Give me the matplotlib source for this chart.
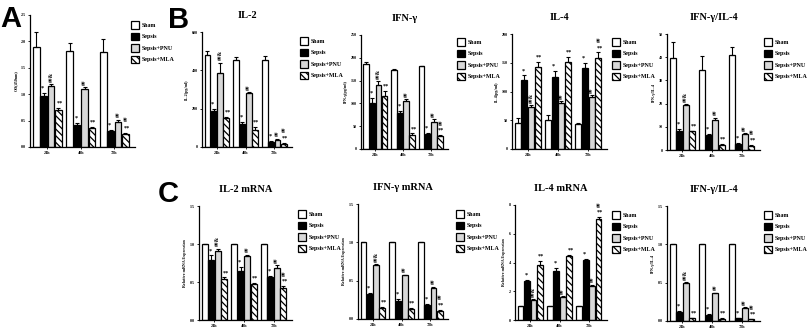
import matplotlib
matplotlib.use("Agg")
import matplotlib.pyplot as plt
from matplotlib.patches import Patch

W, H = 808, 333

groups = ["24h", "48h", "72h"]
series = ["Sham", "Sepsis", "Sepsis+PNU", "Sepsis+MLA"]

# Panel A: OD(450nm)
a_sham = [1.90, 1.82, 1.80]
a_sepsis = [0.97, 0.42, 0.30]
a_pnu = [1.15, 1.10, 0.48]
a_mla = [0.70, 0.36, 0.24]
a_err = [[0.27, 0.15, 0.25], [0.05, 0.03, 0.02], [0.04, 0.03, 0.03], [0.03, 0.02, 0.02]]

# Panel B: serum cytokines
il2_sham = [481, 456, 456]
il2_sepsis = [189, 119, 26]
il2_pnu = [385, 280, 38]
il2_mla = [149, 91, 16]
il2_err = [[18, 15, 18], [8, 10, 5], [55, 8, 5], [8, 15, 6]]

ifn_sham = [186, 173, 181]
ifn_sepsis = [100, 79, 33]
ifn_pnu = [141, 106, 60]
ifn_mla = [116, 31, 28]
ifn_err = [[5, 2, 2], [12, 5, 3], [8, 4, 6], [12, 3, 3]]

il4_sham = [46, 51, 43]
il4_sepsis = [120, 126, 140]
il4_pnu = [73, 80, 90]
il4_mla = [142, 152, 158]
il4_err = [[8, 8, 2], [8, 9, 10], [3, 3, 4], [9, 8, 10]]

ratio_sham = [39.5, 34.5, 41.0]
ratio_sepsis = [8.3, 6.5, 2.6]
ratio_pnu = [19.2, 13.0, 6.8]
ratio_mla = [8.0, 2.3, 1.9]
ratio_err = [[7, 6, 3.5], [0.8, 0.6, 0.3], [0.5, 1.0, 0.5], [0.3, 0.3, 0.3]]

# Panel C: relative mRNA expression
il2m_sham = [1.0, 1.0, 1.0]
il2m_sepsis = [0.79, 0.65, 0.56]
il2m_pnu = [0.91, 0.84, 0.69]
il2m_mla = [0.54, 0.48, 0.42]
il2m_err = [[0, 0, 0], [0.06, 0.05, 0.02], [0.03, 0.02, 0.03], [0.02, 0.01, 0.03]]

ifnm_sham = [1.0, 1.0, 1.0]
ifnm_sepsis = [0.32, 0.24, 0.18]
ifnm_pnu = [0.70, 0.57, 0.40]
ifnm_mla = [0.15, 0.13, 0.11]
ifnm_err = [[0, 0, 0], [0.02, 0.02, 0.02], [0.02, 0.01, 0.02], [0.01, 0.01, 0.01]]

il4m_sham = [1.0, 1.0, 1.0]
il4m_sepsis = [2.7, 3.4, 4.2]
il4m_pnu = [1.4, 1.6, 2.4]
il4m_mla = [3.8, 4.45, 7.0]
il4m_err = [[0, 0, 0], [0.1, 0.2, 0.05], [0.05, 0.05, 0.05], [0.3, 0.1, 0.15]]

ratiom_sham = [1.0, 1.0, 1.0]
ratiom_sepsis = [0.12, 0.08, 0.04]
ratiom_pnu = [0.49, 0.36, 0.17]
ratiom_mla = [0.04, 0.03, 0.02]
ratiom_err = [[0, 0, 0], [0.01, 0.01, 0.005], [0.015, 0.01, 0.01], [0.005, 0.005, 0.005]]

SERIF = "Liberation Serif"
colors = ["white", "black", "#d8d8d8", "white"]
hatches = [None, None, None, "\\\\\\\\\\"]
plt.rcParams["hatch.linewidth"] = 0.9


def px_rect(x0, y0, x1, y1):
    return [x0 / W, 1 - y1 / H, (x1 - x0) / W, (y1 - y0) / H]


def bar_panel(fig, rect, data, errs, ymax, yticks, yticklabels, ylabel, title=None):
    ax = fig.add_axes(px_rect(*rect))
    width = 0.2
    offsets = [-0.33, -0.11, 0.11, 0.33]
    for i, vals in enumerate(data):
        xs = [g + offsets[i] for g in range(len(groups))]
        ax.bar(xs, vals, width=width, color=colors[i], edgecolor="black",
               linewidth=0.9, hatch=hatches[i], zorder=2)
        ax.errorbar(xs, vals, yerr=[[0] * len(vals), errs[i]], fmt="none",
                    ecolor="black", elinewidth=0.8, capsize=1.5, capthick=0.8, zorder=3)
    # significance marks
    pad = ymax * 0.02
    for g in range(len(groups)):
        top = data[1][g] + errs[1][g] + pad
        ax.text(g + offsets[1] - 0.04, top, "*", ha="center", va="bottom",
                fontsize=4.5, family=SERIF, fontweight="bold")
        top = data[2][g] + errs[2][g] + pad
        mark = "##&" if g == 0 else "##"
        ax.text(g + offsets[2], top, mark, ha="center", va="bottom", rotation=90,
                fontsize=4, family=SERIF, fontweight="bold")
        top = data[3][g] + errs[3][g] + pad
        ax.text(g + offsets[3] + 0.04, top, "**", ha="center", va="bottom",
                fontsize=4.5, family=SERIF, fontweight="bold")
        if g == 2:
            ax.text(g + offsets[3] + 0.04, top + ymax * 0.07, "##", ha="center",
                    va="bottom", rotation=90, fontsize=4, family=SERIF, fontweight="bold")
    ax.set_xlim(-0.52, 2.62)
    ax.set_ylim(0, ymax)
    ax.set_xticks(range(len(groups)))
    ax.set_xticklabels(groups)
    ax.set_yticks(yticks)
    ax.set_yticklabels(yticklabels)
    ax.tick_params(labelsize=3, length=1.5, width=0.6, pad=1.5)
    for lab in ax.get_xticklabels() + ax.get_yticklabels():
        lab.set_family(SERIF)
        lab.set_fontweight("bold")
    for s in ["top", "right"]:
        ax.spines[s].set_visible(False)
    for s in ["left", "bottom"]:
        ax.spines[s].set_linewidth(0.9)
    ax.set_ylabel(ylabel, fontsize=3, family=SERIF, fontweight="bold", labelpad=2)
    if title:
        ax.set_title(title, fontsize=7.5, family=SERIF, fontweight="bold", pad=10)
    return ax


def add_legend(fig, x, y):
    handles = [Patch(facecolor=colors[i], edgecolor="black", hatch=hatches[i], linewidth=0.9)
               for i in range(4)]
    fig.legend(handles, series, loc="upper left", bbox_to_anchor=(x / W, 1 - y / H),
               frameon=False, prop={"family": SERIF, "weight": "bold", "size": 4.3},
               handlelength=1.4, handleheight=1.6, labelspacing=0.65, handletextpad=0.4,
               borderpad=0, borderaxespad=0)


fig = plt.figure(figsize=(W / 100, H / 100), dpi=100)

# Panel A
bar_panel(fig, (30, 15, 135, 147), [a_sham, a_sepsis, a_pnu, a_mla], a_err, 2.5,
          [0, 0.5, 1.0, 1.5, 2.0, 2.5], ["0.0", "0.5", "1.0", "1.5", "2.0", "2.5"],
          "OD(450nm)")
add_legend(fig, 131, 21)

# Panel B
bar_panel(fig, (202, 32, 292, 147), [il2_sham, il2_sepsis, il2_pnu, il2_mla], il2_err, 600,
          [0, 200, 400, 600], ["0", "200", "400", "600"], "IL-2(pg/ml)", "IL-2")
add_legend(fig, 300, 37)
bar_panel(fig, (361, 35, 448, 149), [ifn_sham, ifn_sepsis, ifn_pnu, ifn_mla], ifn_err, 250,
          [0, 50, 100, 150, 200, 250], ["0", "50", "100", "150", "200", "250"],
          "IFN-γ(pg/ml)", "IFN-γ")
add_legend(fig, 457, 38)
bar_panel(fig, (512, 34, 607, 149), [il4_sham, il4_sepsis, il4_pnu, il4_mla], il4_err, 200,
          [0, 50, 100, 150, 200], ["0", "50", "100", "150", "200"], "IL-4(pg/ml)", "IL-4")
add_legend(fig, 612, 38)
bar_panel(fig, (667, 34, 760, 150), [ratio_sham, ratio_sepsis, ratio_pnu, ratio_mla], ratio_err, 50,
          [0, 10, 20, 30, 40, 50], ["0", "10", "20", "30", "40", "50"], "IFN-γ/IL-4", "IFN-γ/IL-4")
add_legend(fig, 764, 38)

# Panel C
bar_panel(fig, (199, 206, 292, 320), [il2m_sham, il2m_sepsis, il2m_pnu, il2m_mla], il2m_err, 1.5,
          [0, 0.5, 1.0, 1.5], ["0.0", "0.5", "1.0", "1.5"], "Relative mRNA Expression", "IL-2 mRNA")
add_legend(fig, 298, 210)
bar_panel(fig, (358, 204, 448, 319), [ifnm_sham, ifnm_sepsis, ifnm_pnu, ifnm_mla], ifnm_err, 1.5,
          [0, 0.5, 1.0, 1.5], ["0.0", "0.5", "1.0", "1.5"], "Relative mRNA Expression", "IFN-γ mRNA")
add_legend(fig, 456, 210)
bar_panel(fig, (515, 205, 607, 320), [il4m_sham, il4m_sepsis, il4m_pnu, il4m_mla], il4m_err, 8,
          [0, 2, 4, 6, 8], ["0", "2", "4", "6", "8"], "Relative mRNA Expression", "IL-4 mRNA")
add_legend(fig, 612, 211)
bar_panel(fig, (667, 206, 760, 321), [ratiom_sham, ratiom_sepsis, ratiom_pnu, ratiom_mla], ratiom_err, 1.5,
          [0, 0.5, 1.0, 1.5], ["0.0", "0.5", "1.0", "1.5"], "IFN-γ/IL-4", "IFN-γ/IL-4")
add_legend(fig, 764, 211)

# panel letters
for letter, x, y in [("A", 0, 5), ("B", 168, 6), ("C", 158, 180)]:
    fig.text(x / W, 1 - y / H, letter, ha="left", va="top", fontsize=21,
             family="Liberation Sans", fontweight="bold")

fig.savefig("out.png", dpi=100)
